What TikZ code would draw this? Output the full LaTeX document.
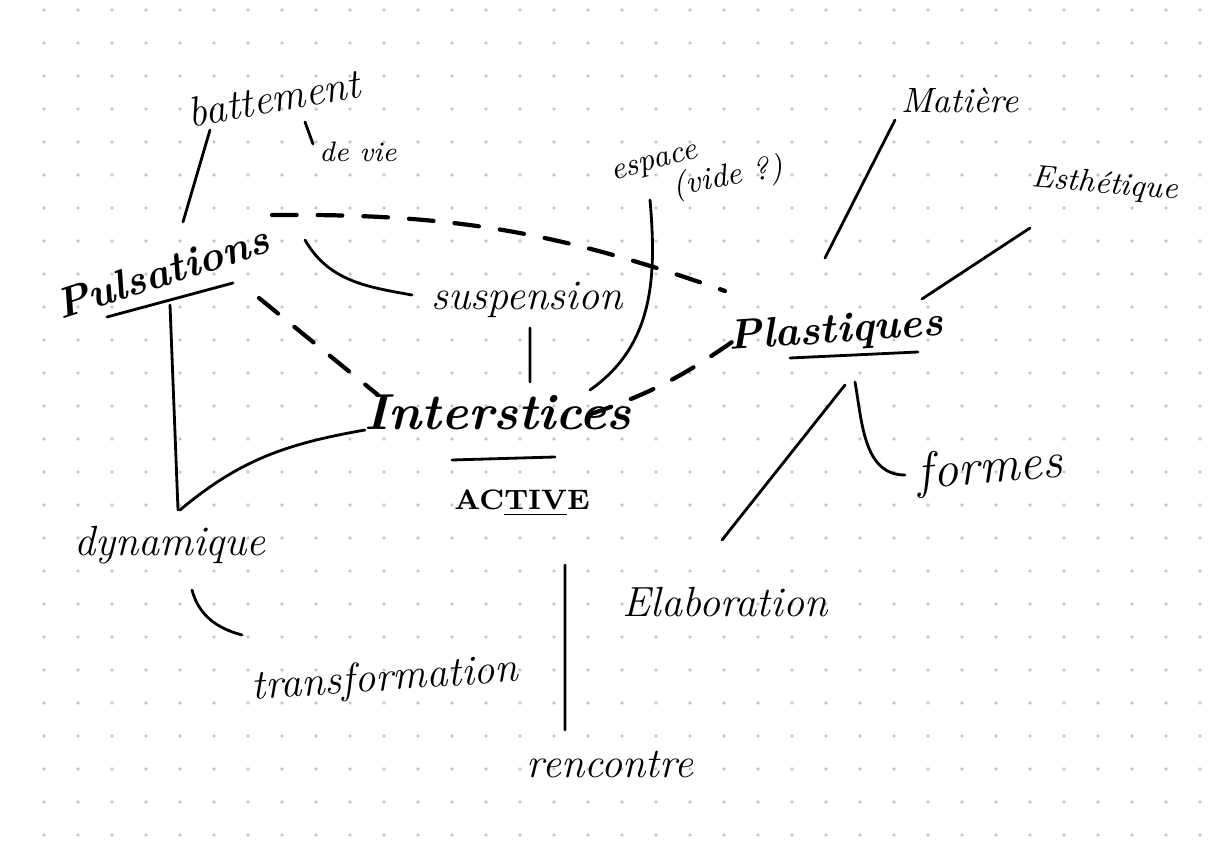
\documentclass[tikz,border=0pt]{standalone}

\tikzset{
    word/.style={font=\itshape, inner sep=1pt},
    keyword/.style={font=\large\bfseries\itshape, inner sep=1pt},
    link/.style={thick, line cap=round},
    dashlink/.style={very thick, dash pattern=on 7pt off 6pt},
}

\begin{document}
\begin{tikzpicture}
            \useasboundingbox (0,0) rectangle (12.15,-8.41);

            % dotted paper
            \foreach \x in {0.44,0.78,...,12.1}{%
                    \foreach \y in {-0.1,-0.43,...,-8.4}{%
                            \fill [black!22] (\x,\y) circle (0.55pt);
                        }
                }

            \begin{scope}[link]

                \node [keyword, rotate=18] (pulsations) at (1.62,-2.72) {Pulsations};
                \node [word, font=\large\itshape, rotate=10] (battement) at (2.74,-0.98) {battement};
                \node [word, font=\footnotesize\itshape] (devie) at (3.58,-1.52) {de vie};
                \node [word, font=\small\itshape, rotate=15] (espace) at (6.55,-1.65) {espace};
                \node [word, font=\small\itshape, rotate=10] (vide) at (7.28,-1.78) {(vide ?)};
                \node [word] (matiere) at (9.60,-1.00) {Matière};
                \node [word, font=\small\itshape, rotate=-5] (esthetique) at (11.05,-1.85) {Esthétique};
                \node [word, font=\large\itshape] (suspension) at (5.27,-3.00) {suspension};
                \node [keyword, rotate=4] (plastiques) at (8.36,-3.32) {Plastiques};
                \node [keyword, font=\Large\bfseries\itshape] (interstices) at (4.98,-4.12) {Interstices};
                \node [font=\footnotesize\bfseries, inner sep=1pt] (active) at (5.22,-5.03) {AC\underline{TIV}E};
                \node [word, font=\Large\itshape, rotate=5] (formes) at (9.90,-4.70) {formes};
                \node [word, font=\large\itshape] (dynamique) at (1.70,-5.45) {dynamique};
                \node [word, font=\large\itshape] (elaboration) at (7.25,-6.02) {Elaboration};
                \node [word, font=\large\itshape, rotate=4] (transformation) at (3.85,-6.80) {transformation};
                \node [word, font=\large\itshape] (rencontre) at (6.10,-7.65) {rencontre};

                % underlines
                \draw ([shift={(-0.55,-0.45)}]pulsations.center) -- ([shift={(0.71,-0.11)}]pulsations.center);
                \draw ([shift={(-0.46,-0.26)}]plastiques.center) -- ([shift={(0.82,-0.20)}]plastiques.center);
                \draw ([shift={(-0.46,-0.48)}]interstices.center) -- ([shift={(0.57,-0.45)}]interstices.center);

                % dashed links between the three main words
                \draw [dashlink] ([shift={(1.10,0.57)}]pulsations.center) to [bend left=10] ([shift={(-1.11,0.41)}]plastiques.center);
                \draw [dashlink] ([shift={(0.97,-0.26)}]pulsations.center) -- ([shift={(-1.20,0.17)}]interstices.center);
                \draw [dashlink] ([shift={(0.90,-0.03)}]interstices.center) to [bend right=8] ([shift={(-1.04,-0.10)}]plastiques.center);

                % solid links
                \draw ([shift={(-0.64,-0.32)}]battement.center) -- ([shift={(0.21,0.50)}]pulsations.center);
                \draw ([shift={(-0.53,0.30)}]devie.center) -- ([shift={(-0.45,0.08)}]devie.center);
                \draw ([shift={(1.43,0.32)}]pulsations.center) to [out=-60, in=170] ([shift={(-1.15,0.05)}]suspension.center);
                \draw ([shift={(0.03,-0.28)}]suspension.center) -- ([shift={(0.32,0.30)}]interstices.center);
                \draw ([shift={(-0.05,-0.35)}]espace.center) to [out=-85, in=35] ([shift={(0.92,0.22)}]interstices.center);
                \draw ([shift={(-0.65,-0.20)}]matiere.center) -- ([shift={(-0.11,0.74)}]plastiques.center);
                \draw ([shift={(-0.75,-0.43)}]esthetique.center) -- ([shift={(0.86,0.33)}]plastiques.center);
                \draw ([shift={(0.19,-0.50)}]plastiques.center) to [out=-80, in=180] ([shift={(-0.85,-0.05)}]formes.center);
                \draw ([shift={(0.09,-0.53)}]plastiques.center) -- ([shift={(-0.03,0.62)}]elaboration.center);
                \draw ([shift={(0.08,-0.33)}]pulsations.center) -- ([shift={(0.08,0.35)}]dynamique.center);
                \draw ([shift={(-1.33,-0.18)}]interstices.center) to [out=190, in=40] ([shift={(0.10,0.35)}]dynamique.center);
                \draw ([shift={(0.22,-0.45)}]dynamique.center) to [out=-75, in=165] ([shift={(-1.43,0.45)}]transformation.center);
                \draw ([shift={(0.43,-0.62)}]active.center) -- ([shift={(-0.45,0.35)}]rencontre.center);

            \end{scope}
        \end{tikzpicture}
\end{document}
